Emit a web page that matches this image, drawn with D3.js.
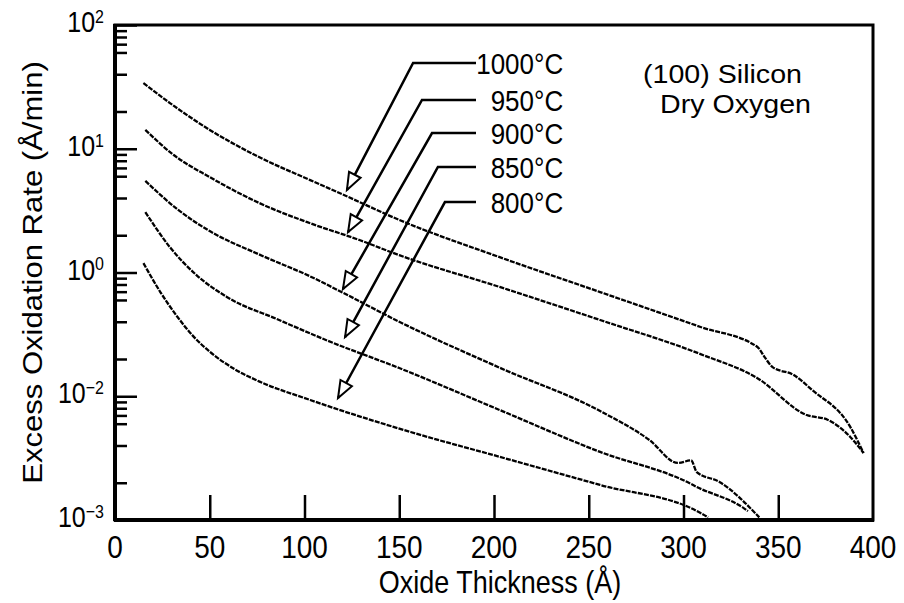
<!DOCTYPE html>
<html>
<head>
<meta charset="utf-8">
<script src="https://cdnjs.cloudflare.com/ajax/libs/d3/7.8.5/d3.min.js"></script>
<style>
    body { margin: 0; background: #fff; }
    svg text { font-family: "Liberation Sans", Arial, Helvetica, sans-serif; fill: #000; }
</style>
</head>
<body>
<div id="chart"></div>
<script>
// values (thickness in Å, excess rate in Å/min)
var temps = ["1000°C", "950°C", "900°C", "850°C", "800°C"];

var thick1000 = [15, 29, 50, 76, 103, 122, 150, 203, 256, 309, 339, 343, 347, 358, 368, 388, 395];
var rate1000 = [34, 23.4, 14.2, 8.57, 5.58, 4.15, 2.66, 1.33, 0.695, 0.363, 0.25, 0.205, 0.172, 0.149, 0.112, 0.0565, 0.0348];

var thick950 = [16, 31, 50, 76, 103, 129, 150, 203, 256, 309, 339, 365, 376, 388, 395];
var rate950 = [14.2, 8.9, 5.9, 3.65, 2.5, 1.83, 1.38, 0.764, 0.413, 0.219, 0.14, 0.0705, 0.0646, 0.0469, 0.0348];

var thick900 = [16, 33, 50, 76, 103, 120, 150, 203, 256, 282, 297, 304, 307, 319, 340];
var rate900 = [5.5, 3.24, 2.16, 1.4, 0.93, 0.69, 0.4, 0.17, 0.076, 0.0443, 0.0289, 0.0303, 0.0244, 0.0203, 0.0105];

var thick850 = [16, 29, 43, 59, 86, 112, 150, 203, 256, 303, 307, 331, 334];
var rate850 = [3.08, 1.6, 0.953, 0.635, 0.417, 0.282, 0.169, 0.0774, 0.0355, 0.0199, 0.0185, 0.0127, 0.0118];

var thick800 = [15, 24, 33, 41, 50, 63, 76, 103, 156, 203, 256, 309, 313];
var rate800 = [1.19, 0.692, 0.437, 0.309, 0.229, 0.166, 0.132, 0.0933, 0.0514, 0.0324, 0.0192, 0.0114, 0.0105];

// axis ticks, labels as printed on the original
var xTicks = [0, 50, 100, 150, 200, 250, 300, 350, 400];
var yTicks = [100, 10, 1, 0.1, 0.01];
var yTickExp = ["2", "1", "0", "\u22122", "\u22123"];
var yMinorMult = [2, 4, 6, 7, 8, 9];

// arrow annotations (data coords): tip, elbow
var tipX = [122.4, 123, 120.3, 121.4, 117.7];
var tipY = [4.65, 2.12, 0.736, 0.301, 0.0968];
var elbowX = [157.3, 162, 167.3, 170.4, 174.1];
var elbowY = [49.3, 24.8, 13.4, 7.13, 3.71];
var leaderEndX = 190.5;
var labelX = 236.5;

var noteLines = ["(100) Silicon", "Dry Oxygen"];

var W = 904, H = 603;
var margin = { left: 115, top: 25, right: 31, bottom: 83 };
var w = W - margin.left - margin.right;
var h = H - margin.top - margin.bottom;
var stretch = 1.15; // the scan is a bit taller than wide

var series = [
    { x: thick1000, y: rate1000 },
    { x: thick950, y: rate950 },
    { x: thick900, y: rate900 },
    { x: thick850, y: rate850 },
    { x: thick800, y: rate800 }
];

var x = d3.scaleLinear().domain([0, 400]).range([0, w]);
var y = d3.scaleLog().domain([0.01, 100]).range([h, 0]);

var svg = d3.select("#chart").append("svg")
    .attr("width", W)
    .attr("height", H);

var g = svg.append("g")
    .attr("transform", "translate(" + margin.left + " " + margin.top + ")");

function stretchedText(sel, px, py) {
    return sel.attr("transform", "translate(" + px + " " + py + ") scale(1 " + stretch + ")");
}

// curves
var line = d3.line()
    .x(function (d) { return x(d[0]); })
    .y(function (d) { return y(d[1]); })
    .curve(d3.curveMonotoneX);

g.selectAll("path.curve")
    .data(series)
    .enter().append("path")
    .attr("class", "curve")
    .attr("d", function (s) { return line(s.x.map(function (v, i) { return [v, s.y[i]]; })); })
    .attr("fill", "none")
    .attr("stroke", "#000")
    .attr("stroke-width", 2.3)
    .attr("stroke-dasharray", "5 1.2");

// minor/major y ticks on the left, pointing inward
var minor = [];
yTicks.forEach(function (t) {
    if (t >= 100) return;
    yMinorMult.forEach(function (m) { minor.push(t * m); });
});

g.append("g")
    .attr("class", "_yminor")
    .call(d3.axisLeft(y).tickValues(minor).tickSize(-12).tickFormat(""))
    .call(function (a) { a.select(".domain").remove(); })
    .selectAll("line").attr("stroke-width", 2.5);

g.append("g")
    .attr("class", "_ymajor")
    .call(d3.axisLeft(y).tickValues(yTicks).tickSize(-22).tickFormat(""))
    .call(function (a) { a.select(".domain").remove(); })
    .selectAll("line").attr("stroke-width", 2.5);

// x ticks pointing up from the bottom
g.append("g")
    .attr("class", "_x")
    .attr("transform", "translate(0 " + h + ")")
    .call(d3.axisBottom(x).tickValues(xTicks.slice(1, -1)).tickSize(-25).tickFormat(""))
    .call(function (a) { a.select(".domain").remove(); })
    .selectAll("line").attr("stroke-width", 2.5);

// frame
g.append("rect")
    .attr("width", w)
    .attr("height", h)
    .attr("fill", "none")
    .attr("stroke", "#000")
    .attr("stroke-width", 3);
g.append("line")
    .attr("x1", 0).attr("x2", 0).attr("y1", -1).attr("y2", h + 1)
    .attr("stroke", "#000").attr("stroke-width", 4);
g.append("line")
    .attr("x1", -1).attr("x2", w + 1).attr("y1", h).attr("y2", h)
    .attr("stroke", "#000").attr("stroke-width", 4);

// tick labels
g.selectAll("text.xlab")
    .data(xTicks)
    .enter().append("text")
    .attr("class", "xlab")
    .attr("text-anchor", "middle")
    .style("font-size", "28px")
    .each(function (d) { stretchedText(d3.select(this), x(d), h + 38); })
    .text(function (d) { return d; });

var ylab = g.selectAll("text.ylab")
    .data(yTicks)
    .enter().append("text")
    .attr("class", "ylab")
    .attr("text-anchor", "end")
    .style("font-size", "25px")
    .each(function (d) { stretchedText(d3.select(this), -11, y(d) + 7); });
ylab.append("tspan").text("10");
ylab.append("tspan")
    .attr("dy", -8)
    .style("font-size", "16px")
    .text(function (d, i) { return yTickExp[i]; });

// axis titles
stretchedText(g.append("text"), w / 2 + 6, h + 73)
    .attr("text-anchor", "middle")
    .style("font-size", "27px")
    .text("Oxide Thickness (\u00c5)");

g.append("text")
    .attr("transform", "translate(-73 " + (h / 2) + ") scale(1 " + stretch + ") rotate(-90)")
    .attr("text-anchor", "middle")
    .style("font-size", "27px")
    .text("Excess Oxidation Rate (\u00c5/min)");

// temperature leaders with open arrowheads
var ann = g.selectAll("g.ann")
    .data(temps)
    .enter().append("g")
    .attr("class", "ann");

ann.append("polyline")
    .attr("points", function (d, i) {
        return [[x(leaderEndX), y(elbowY[i])], [x(elbowX[i]), y(elbowY[i])], [x(tipX[i]), y(tipY[i])]].join(" ");
    })
    .attr("fill", "none")
    .attr("stroke", "#000")
    .attr("stroke-width", 2.5);

ann.append("path")
    .attr("d", function (d, i) {
        var tx = x(tipX[i]), ty = y(tipY[i]);
        var dx = tx - x(elbowX[i]), dy = ty - y(elbowY[i]);
        var len = Math.sqrt(dx * dx + dy * dy);
        var ux = dx / len, uy = dy / len;
        var L = 17, hw = 6.5;
        var bx = tx - ux * L, by = ty - uy * L;
        return "M" + tx + "," + ty +
            "L" + (bx - uy * hw) + "," + (by + ux * hw) +
            "L" + (bx + uy * hw) + "," + (by - ux * hw) + "Z";
    })
    .attr("fill", "#fff")
    .attr("stroke", "#000")
    .attr("stroke-width", 2);

ann.append("text")
    .attr("text-anchor", "end")
    .style("font-size", "26px")
    .each(function (d, i) { stretchedText(d3.select(this), x(labelX), y(elbowY[i]) + 11); })
    .text(function (d) { return d; });

// conditions note: widened instead of stretched so the two lines keep clear of each other
g.selectAll("text.note")
    .data(noteLines)
    .enter().append("text")
    .attr("class", "note")
    .style("font-size", "26px")
    .attr("transform", function (d, i) {
        return "translate(" + (i == 0 ? 528 : 545) + " " + (58 + i * 29.5) + ") scale(1.1 1)";
    })
    .text(function (d) { return d; });
</script>
</body>
</html>
